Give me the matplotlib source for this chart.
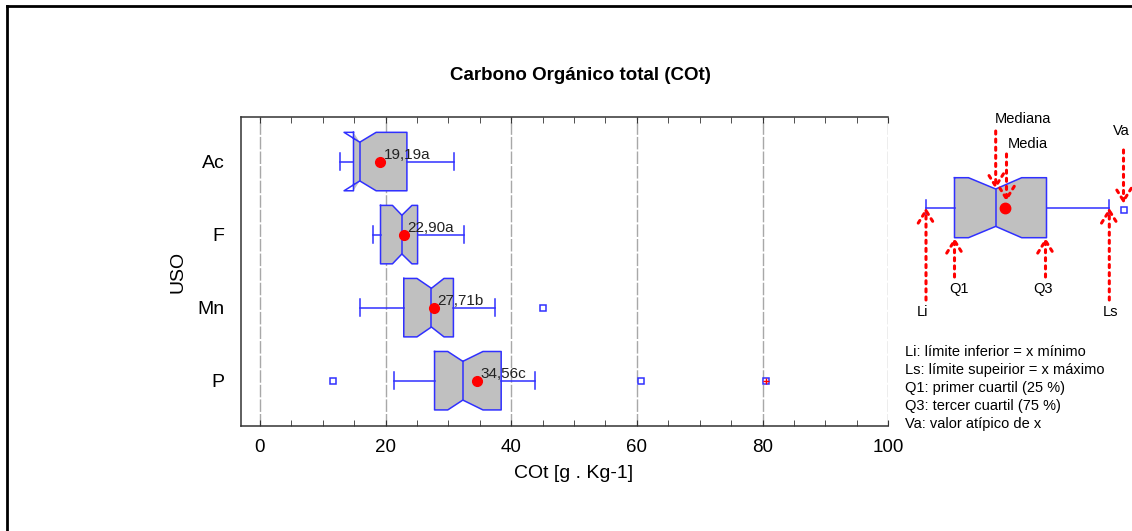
import matplotlib
matplotlib.use("Agg")
import matplotlib.pyplot as plt
from matplotlib.lines import Line2D
import numpy as np

plt.rcParams['font.family'] = ['Liberation Sans', 'DejaVu Sans']

# resumen por uso del suelo (COt, g/kg)
categories = ['Ac', 'F', 'Mn', 'P']
q1 = [14.9, 19.2, 22.9, 27.8]
q3 = [23.4, 25.1, 30.8, 38.4]
medians = [15.9, 22.6, 27.3, 32.3]
notch_lo = [13.4, 21.1, 25.0, 29.9]
notch_hi = [18.5, 24.2, 29.3, 35.5]
whisk_lo = [12.7, 18.0, 15.9, 21.4]
whisk_hi = [30.9, 32.5, 37.4, 43.8]
means = [19.19, 22.90, 27.71, 34.56]
mean_labels = ['19,19a', '22,90a', '27,71b', '34,56c']
outliers = [[], [], [45.1], [11.6, 60.7]]
far_outliers = [[], [], [], [80.6]]

BLUE = '#3030ff'
GRAY = '#c0c0c0'


def notched_box(ax, pos, lo, qa, med, qb, hi, cl, ch, h, w, cap):
    # relleno sin las "aletas" cuando la muesca sale de la caja
    fl, fh = max(cl, qa), min(ch, qb)
    fx = [qa, fl, med, fh, qb, qb, fh, med, fl, qa]
    fy = [pos - h, pos - h, pos - w, pos - h, pos - h, pos + h, pos + h, pos + w, pos + h, pos + h]
    ax.fill(fx, fy, color=GRAY, lw=0, zorder=2)
    ox = [qa, cl, med, ch, qb, qb, ch, med, cl, qa, qa]
    oy = [pos - h, pos - h, pos - w, pos - h, pos - h, pos + h, pos + h, pos + w, pos + h, pos + h, pos - h]
    ax.plot(ox, oy, color=BLUE, lw=1.1, zorder=3)
    ax.plot([med, med], [pos - w, pos + w], color=BLUE, lw=1.1, zorder=3)
    ax.plot([lo, qa], [pos, pos], color=BLUE, lw=1.1, zorder=3)
    ax.plot([qb, hi], [pos, pos], color=BLUE, lw=1.1, zorder=3)
    ax.plot([lo, lo], [pos - cap, pos + cap], color=BLUE, lw=1.1, zorder=3)
    ax.plot([hi, hi], [pos - cap, pos + cap], color=BLUE, lw=1.1, zorder=3)


fig = plt.figure(figsize=(11.32, 5.31), dpi=100)
ax = fig.add_axes([241 / 1132, 1 - 426 / 531, 647.3 / 1132, 309 / 531])

for i in range(len(categories)):
    notched_box(ax, i, whisk_lo[i], q1[i], medians[i], q3[i], whisk_hi[i],
                notch_lo[i], notch_hi[i], 0.4, 0.265, 0.115)
    ax.plot(means[i], i, 'o', color='red', ms=7, zorder=4)
    ax.text(means[i] + 0.5, i - 0.04, mean_labels[i], fontsize=11,
            color='#222222', va='baseline', ha='left', zorder=5)
    for v in outliers[i]:
        ax.plot(v, i, 's', mfc='white', mec=BLUE, ms=4.5, mew=1.1, zorder=4)
    for v in far_outliers[i]:
        ax.plot(v, i, 's', mfc='white', mec=BLUE, ms=4.5, mew=1.1, zorder=4)
        ax.plot(v, i, '+', color='red', ms=4, mew=1, zorder=5)

ax.set_xlim(-3, 100)
ax.set_ylim(3.62, -0.61)
ax.set_xticks(np.arange(0, 101, 20))
ax.set_xticks(np.arange(0, 101, 5), minor=True)
ax.set_yticks(range(len(categories)))
ax.set_yticklabels(categories)
ax.tick_params(axis='x', which='both', direction='in', length=4, top=True,
               labelsize=13.5, pad=9, color='#333333')
ax.tick_params(axis='y', length=0, labelsize=14, pad=12)
ax.xaxis.grid(True, color='#a8a8a8', lw=1, ls=(0, (9, 1.5)))
ax.set_axisbelow(True)
ax.spines['right'].set_visible(False)
for s in ['left', 'top', 'bottom']:
    ax.spines[s].set_color('#333333')
    ax.spines[s].set_linewidth(1.1)
ax.set_xlabel('COt [g . Kg-1]', fontsize=14)
ax.xaxis.set_label_coords((574 - 241) / 647.3, -0.125)
ax.set_ylabel('USO', fontsize=14, labelpad=8)

fig.text(580 / 1132, 1 - 76 / 531, 'Carbono Orgánico total (COt)',
         fontsize=13.5, fontweight='bold', ha='center', va='center')

# esquema explicativo de la caja, en pixeles de la figura
key = fig.add_axes([0, 0, 1, 1])
key.set_xlim(0, 1132)
key.set_ylim(531, 0)
key.axis('off')
key.patch.set_alpha(0)

key_vals = dict(li=926, q1=954.5, cl=968.5, med=995.7, ch=1021.7, q3=1046.5,
                ls=1109.3, mean=1004.5, va=1123.5)
ky = 207.7
notched_box(key, ky, key_vals['li'], key_vals['q1'], key_vals['med'], key_vals['q3'],
            key_vals['ls'], key_vals['cl'], key_vals['ch'], 30, 18.7, 7.5)
key.plot(key_vals['mean'], ky, 'o', color='red', ms=7.5, zorder=4)
key.plot(key_vals['va'], ky + 2.5, 's', mfc='white', mec=BLUE, ms=4.5, mew=1.1, zorder=4)

arrow = dict(arrowstyle='->, head_length=0.45, head_width=0.28', ls=':', lw=2.2,
             color='red', mutation_scale=20, shrinkA=0, shrinkB=0)
# flechas hacia abajo
key.annotate('', xy=(key_vals['med'], ky - 18.5), xytext=(key_vals['med'], 131), arrowprops=arrow)
key.annotate('', xy=(key_vals['mean'] + 2, ky - 6), xytext=(key_vals['mean'] + 2, 154), arrowprops=arrow)
key.annotate('', xy=(key_vals['va'], ky - 4), xytext=(key_vals['va'], 150), arrowprops=arrow)
# flechas hacia arriba
key.annotate('', xy=(key_vals['li'], ky), xytext=(key_vals['li'], 300), arrowprops=arrow)
key.annotate('', xy=(key_vals['q1'], ky + 30), xytext=(key_vals['q1'], 277), arrowprops=arrow)
key.annotate('', xy=(key_vals['q3'] - 1, ky + 30), xytext=(key_vals['q3'] - 1, 277), arrowprops=arrow)
key.annotate('', xy=(key_vals['ls'], ky), xytext=(key_vals['ls'], 300), arrowprops=arrow)

kfs = 10.5
key.text(1023, 119, 'Mediana', fontsize=kfs, ha='center', va='center')
key.text(1028, 144, 'Media', fontsize=kfs, ha='center', va='center')
key.text(1113, 131, 'Va', fontsize=kfs, ha='left', va='center')
key.text(923, 312, 'Li', fontsize=kfs, ha='center', va='center')
key.text(959, 289, 'Q1', fontsize=kfs, ha='center', va='center')
key.text(1043, 289, 'Q3', fontsize=kfs, ha='center', va='center')
key.text(1110, 312, 'Ls', fontsize=kfs, ha='center', va='center')

notes = ['Li: límite inferior = x mínimo',
         'Ls: límite supeirior = x máximo',
         'Q1: primer cuartil (25 %)',
         'Q3: tercer cuartil (75 %)',
         'Va: valor atípico de x']
for k, line in enumerate(notes):
    key.text(905, 352 + 18 * k, line, fontsize=kfs, ha='left', va='center')

# marco de la figura
fig.add_artist(Line2D([7 / 1132, 7 / 1132], [0, 1 - 6 / 531], transform=fig.transFigure,
                      color='black', lw=2))
fig.add_artist(Line2D([7 / 1132, 1], [1 - 6 / 531, 1 - 6 / 531], transform=fig.transFigure,
                      color='black', lw=2))

fig.savefig('out.png', dpi=100)
